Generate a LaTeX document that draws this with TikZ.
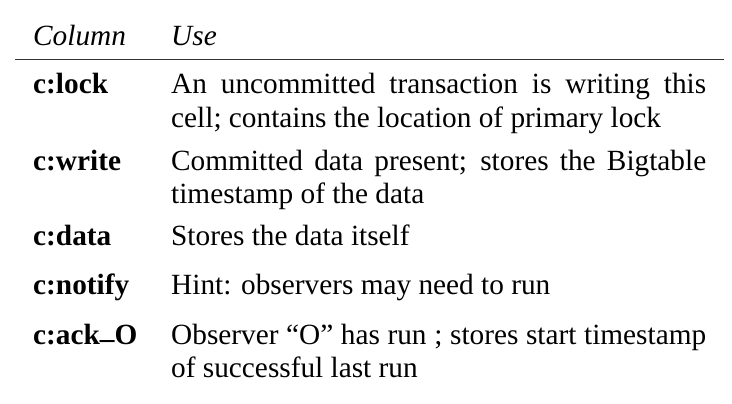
\documentclass[tikz,border=0pt]{standalone}
\usepackage{fontspec}
\setmainfont{Liberation Serif}
\newcommand\cellfont{\fontsize{29.3}{33.6}\selectfont}
\tikzset{
  hdr/.style={anchor=base west, inner sep=0pt, font=\cellfont\itshape},
  key/.style={anchor=base west, inner sep=0pt, font=\cellfont\bfseries},
  use/.style={anchor=base west, inner sep=0pt, font=\cellfont, text width=535pt, align=justify},
  rule/.style={draw=black!80, line width=1pt},
}
\begin{document}
\begin{tikzpicture}[x=1pt,y=1pt]
  \useasboundingbox (0,0) rectangle (732,-404);
  \coordinate (rl) at (15,-60);
  \coordinate (rr) at (724,-60);

  % header
  \node[hdr] (hcol) at (33,-46) {Column};
  \node[hdr] (huse) at (171,-46) {Use};
  \draw[rule] (rl)--(rr);

  % rows
  \node[key] (klock) at (33,-94) {c:lock};
  \node[use] (ulock) at (171,-94) {An uncommitted transaction is writing this\linebreak cell; contains the location of primary lock};
  \node[key] (kwrite) at (33,-170) {c:write};
  \node[use] (uwrite) at (171,-170) {Committed data present; stores the Bigtable\linebreak timestamp of the data};
  \node[key] (kdata) at (33,-245) {c:data};
  \node[use] (udata) at (171,-245) {Stores the data itself};
  \node[key] (knotify) at (33,-294) {c:notify};
  \node[use] (unotify) at (171,-294) {Hint: observers may need to run};
  \node[key] (kack) at (33,-344) {c:ack\raisebox{0.19em}{\_}O};
  \node[use] (uack) at (171,-344) {Observer “O” has run ; stores start timestamp\linebreak of successful last run};
\end{tikzpicture}
\end{document}
